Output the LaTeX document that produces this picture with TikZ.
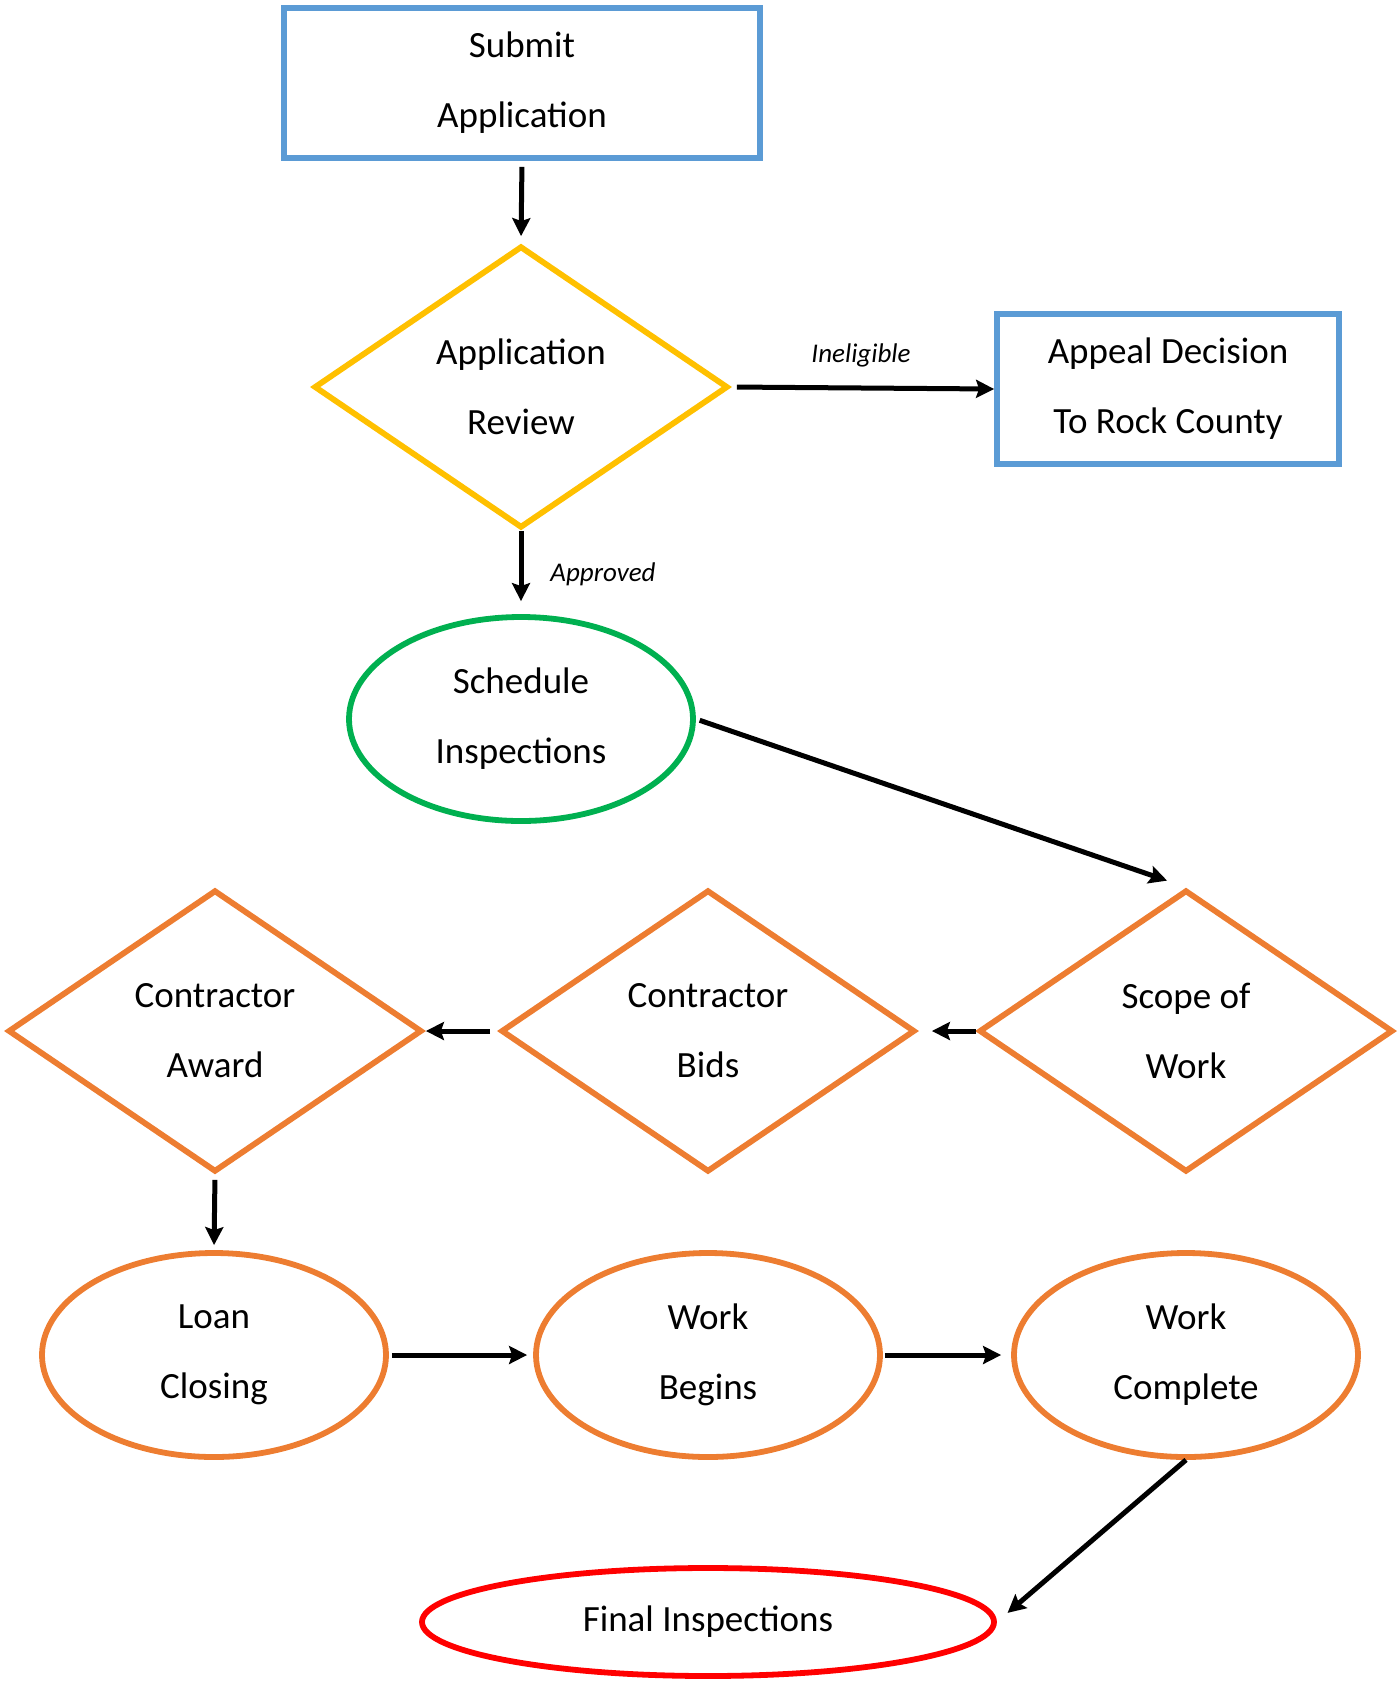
\documentclass[tikz,border=0pt]{standalone}
\usepackage{fontspec}
\setmainfont{Carlito}
\usetikzlibrary{shapes.geometric,arrows.meta}
\definecolor{cblue}{HTML}{5B9BD5}
\definecolor{cgold}{HTML}{FFC000}
\definecolor{cgreen}{HTML}{00B050}
\definecolor{corange}{HTML}{ED7D31}
\definecolor{cred}{HTML}{FF0000}
\tikzset{
  base/.style={inner sep=0pt, line width=2.9pt, align=center, font=\fontsize{18.5}{35}\selectfont},
  rectbox/.style={base, rectangle, draw=cblue, minimum width=238pt, minimum height=75pt},
  diam/.style={base, diamond, shape aspect=1.47, minimum width=207pt, minimum height=141pt},
  ell/.style={base, ellipse, minimum width=172pt, minimum height=102pt},
  arr/.style={line width=2.5pt, -{Stealth[length=9pt,width=9pt,inset=1.5pt]}},
  lbl/.style={font=\fontsize{13.5}{16}\selectfont\itshape, inner sep=0pt}
}
\begin{document}
\begin{tikzpicture}[x=0.5pt,y=-0.5pt]
\useasboundingbox (0,0) rectangle (1397,1683);
\node[rectbox] (sub) at (522,83) {Submit\\Application};
\node[diam, draw=cgold] (rev) at (521,387) {Application\\Review};
\node[rectbox, minimum width=171pt] (app) at (1168,389) {Appeal Decision\\To Rock County};
\node[ell, draw=cgreen] (sched) at (521,719) {Schedule\\Inspections};
\node[diam, draw=corange] (scope) at (1186,1031) {Scope of\\Work};
\node[diam, draw=corange] (bids) at (708,1031) {Contractor\\Bids};
\node[diam, draw=corange] (award) at (215,1031) {Contractor\\Award};
\node[ell, draw=corange] (loan) at (214,1355) {Loan\\Closing};
\node[ell, draw=corange] (wb) at (708,1355) {Work\\Begins};
\node[ell, draw=corange] (wc) at (1186,1355) {Work\\Complete};
\node[ell, draw=cred, minimum width=286pt, minimum height=54pt] (fin) at (708,1622) {Final Inspections};
\node[lbl] (inel) at (861,355) {Ineligible};
\node[lbl] (apr) at (603,574) {Approved};
\draw[arr, shorten <=3pt, shorten >=3.5pt] (sub.south) -- (rev.north);
\draw[arr, shorten <=3pt] (rev.east) -- (app.west);
\draw[arr, shorten >=6.5pt] (rev.south) -- (sched.north);
\draw[arr, shorten <=2pt, shorten >=10pt] (sched.east) -- (scope.north);
\draw[arr, shorten >=7pt] (scope.west) -- (bids.east);
\draw[arr, shorten <=4pt, shorten >=0.5pt] (bids.west) -- (award.east);
\draw[arr, shorten <=2.5pt, shorten >=2.5pt] (award.south) -- (loan.north);
\draw[arr, shorten <=1.5pt, shorten >=3pt] (loan.east) -- (wb.west);
\draw[arr, shorten <=1pt, shorten >=5pt] (wb.east) -- (wc.west);
\draw[arr, shorten >=7pt] (wc.south) -- (fin.east);
\end{tikzpicture}
\end{document}
